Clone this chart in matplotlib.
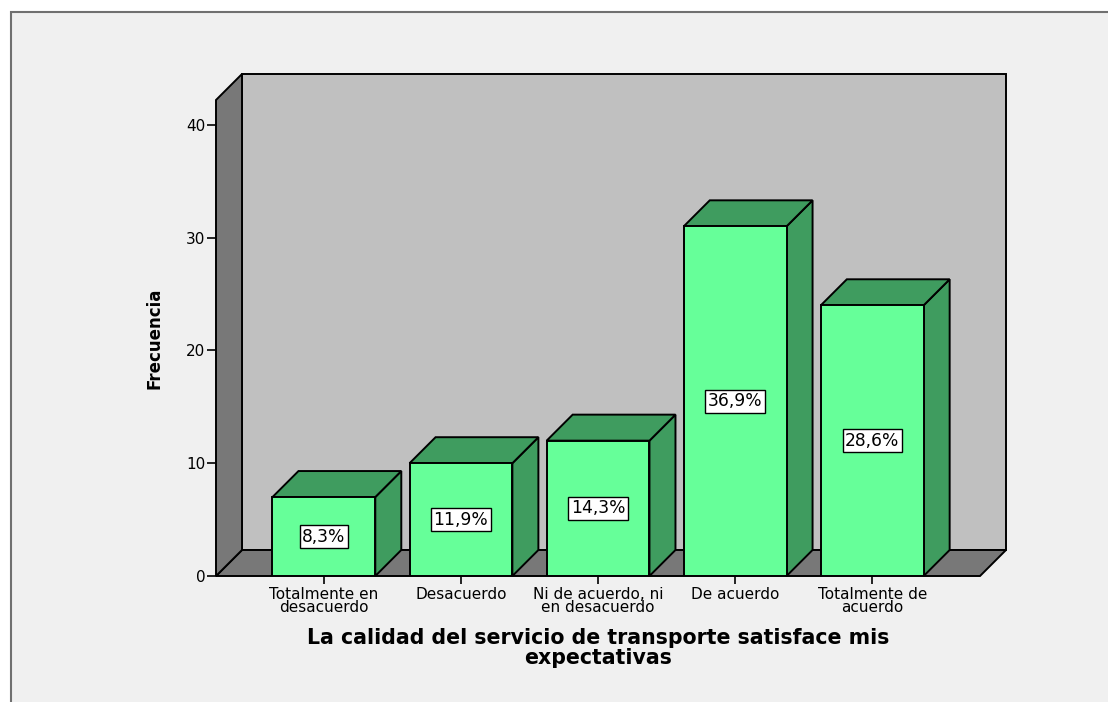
import matplotlib
matplotlib.use('Agg')
import matplotlib.pyplot as plt
from matplotlib.patches import Polygon, Rectangle
import numpy as np

# data
categories = ["Totalmente en\ndesacuerdo", "Desacuerdo", "Ni de acuerdo, ni\nen desacuerdo",
              "De acuerdo", "Totalmente de\nacuerdo"]
freq = [7, 10, 12, 31, 24]
yticks = [0, 10, 20, 30, 40]
xlabel = "La calidad del servicio de transporte satisface mis\nexpectativas"
ylabel = "Frecuencia"

# palette
BG = "#F0F0F0"; WALL = "#C0C0C0"; DARKWALL = "#787878"
FRONT = "#66FF99"; SIDE = "#3F9C5F"

plt.rcParams['font.family'] = 'DejaVu Sans'

fig = plt.figure(figsize=(11.08, 7.02), dpi=100, facecolor='white')
# outer SPSS-style frame
frame = fig.add_axes([0, 0, 1, 1], zorder=0)
frame.set_axis_off()
frame.set_xlim(0, 1); frame.set_ylim(0, 1)
frame.add_patch(Rectangle((11/1108, -0.5), 3, 1.5 - 12/702, facecolor=BG,
                          edgecolor='#707070', lw=1.5, clip_on=False))

ax = fig.add_axes([216/1108, 1 - 576/702, 764/1108, 476/702], zorder=1)
ax.set_facecolor('none')
x0, x1 = -0.787, 4.786
ytop = 42.2
ax.set_xlim(x0, x1)
ax.set_ylim(0, ytop)
for s in ax.spines.values():
    s.set_visible(False)

# depth of the pseudo-3D effect, in data units
depth_px = 26 * fig.dpi / 100
p0 = ax.transData.transform((0, 0))
ddx, ddy = ax.transData.inverted().transform(p0 + depth_px)

def poly(pts, fc, z):
    ax.add_patch(Polygon(pts, closed=True, facecolor=fc, edgecolor='black',
                         lw=1.4, clip_on=False, zorder=z, joinstyle='miter'))

# back wall, floor, left wall
poly([(x0 + ddx, ddy), (x1 + ddx, ddy), (x1 + ddx, ytop + ddy), (x0 + ddx, ytop + ddy)], WALL, 1)
poly([(x0, 0), (x1, 0), (x1 + ddx, ddy), (x0 + ddx, ddy)], DARKWALL, 1)
poly([(x0, 0), (x0 + ddx, ddy), (x0 + ddx, ytop + ddy), (x0, ytop)], DARKWALL, 1)

xs = np.arange(len(categories))
w = 0.75
total = sum(freq)
ax.bar(xs, freq, width=w, color=FRONT, edgecolor='black', lw=1.4, zorder=4)
for x, v in zip(xs, freq):
    xl, xr = x - w / 2, x + w / 2
    poly([(xr, 0), (xr + ddx, ddy), (xr + ddx, v + ddy), (xr, v)], SIDE, 3)
    poly([(xl, v), (xr, v), (xr + ddx, v + ddy), (xl + ddx, v + ddy)], SIDE, 3)
    pct = f"{v / total * 100:.1f}%".replace('.', ',')
    ax.text(x, v / 2, pct, ha='center', va='center', fontsize=12.3, zorder=6,
            bbox=dict(boxstyle='square,pad=0.14', facecolor='white', edgecolor='black', lw=1))

ax.set_yticks(yticks)
ax.set_xticks(xs)
ax.set_xticklabels(categories, fontsize=11, linespacing=0.82)
ax.tick_params(axis='y', direction='out', length=6.5, width=1.2, pad=1, labelsize=11)
ax.tick_params(axis='x', direction='out', length=5.8, width=1.2, pad=2)

ax.set_ylabel(ylabel, fontsize=12, fontweight='bold')
ax.yaxis.set_label_coords(-0.069, 0.5)
ax.set_xlabel(xlabel, fontsize=14.8, fontweight='bold', linespacing=1.0)
ax.xaxis.set_label_coords(0.5, -0.11)

fig.savefig("out.png", dpi=100, facecolor=fig.get_facecolor())
